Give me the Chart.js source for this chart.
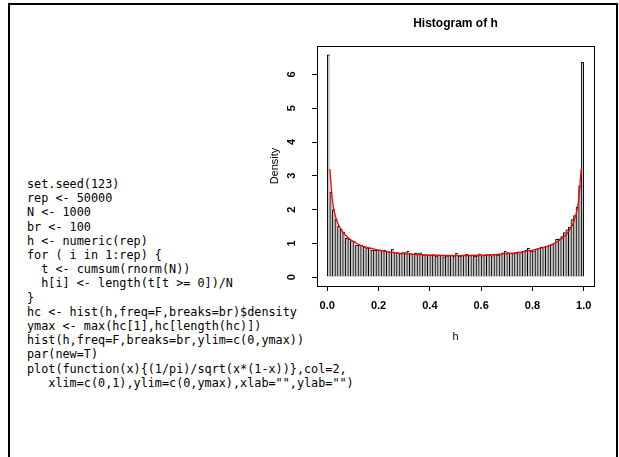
<!DOCTYPE html>
<html>
<head>
<meta charset="utf-8">
<title>Histogram of h</title>
<script src="https://cdn.jsdelivr.net/npm/chart.js@4.4.0/dist/chart.umd.min.js"></script>
<style>
body { margin: 0; width: 619px; height: 457px; overflow: hidden; background: #fff; position: relative; }
#frame { position: absolute; left: 8px; top: 3px; width: 606px; height: 480px; border: 2px solid #000; border-bottom: none; }
#code { position: absolute; left: 27px; top: 177px; margin: 0; font-family: "DejaVu Sans Mono", monospace; font-size: 11.8px; line-height: 14.2px; color: #000; }
#plot { position: absolute; left: 0; top: 0; }
</style>
</head>
<body>
<div id="frame"></div>
<pre id="code">set.seed(123)
rep &lt;- 50000
N &lt;- 1000
br &lt;- 100
h &lt;- numeric(rep)
for ( i in 1:rep) {
  t &lt;- cumsum(rnorm(N))
  h[i] &lt;- length(t[t &gt;= 0])/N
}
hc &lt;- hist(h,freq=F,breaks=br)$density
ymax &lt;- max(hc[1],hc[length(hc)])
hist(h,freq=F,breaks=br,ylim=c(0,ymax))
par(new=T)
plot(function(x){(1/pi)/sqrt(x*(1-x))},col=2,
   xlim=c(0,1),ylim=c(0,ymax),xlab="",ylab="")</pre>
<canvas id="plot" width="619" height="457"></canvas>
<script>
// histogram densities, 100 bins of width 0.01
const density = [
  6.58, 2.52, 2.00, 1.72, 1.50, 1.42, 1.33, 1.15, 1.12, 1.08,
  1.07, 0.95, 0.95, 0.94, 0.90, 0.87, 0.86, 0.80, 0.80, 0.80,
  0.81, 0.80, 0.80, 0.76, 0.74, 0.83, 0.73, 0.72, 0.70, 0.73,
  0.73, 0.76, 0.70, 0.68, 0.71, 0.70, 0.72, 0.66, 0.67, 0.66,
  0.65, 0.67, 0.62, 0.66, 0.65, 0.60, 0.63, 0.64, 0.65, 0.63,
  0.71, 0.62, 0.64, 0.66, 0.68, 0.64, 0.65, 0.62, 0.63, 0.69,
  0.64, 0.65, 0.67, 0.66, 0.64, 0.67, 0.65, 0.68, 0.72, 0.77,
  0.73, 0.72, 0.70, 0.72, 0.75, 0.73, 0.76, 0.79, 0.85, 0.77,
  0.78, 0.83, 0.85, 0.88, 0.89, 0.92, 0.93, 0.96, 1.00, 1.12,
  1.13, 1.20, 1.32, 1.40, 1.48, 1.70, 1.82, 2.07, 2.70, 6.36
];
const binWidth = 0.01;
const binMids = density.map((d, i) => +(binWidth * (i + 0.5)).toFixed(3));

// red density curve
const curveX = [0.01, 0.02, 0.03, 0.04, 0.05, 0.06, 0.08, 0.10, 0.13, 0.16, 0.20, 0.25, 0.30, 0.35,
  0.40, 0.45, 0.50, 0.55, 0.60, 0.65, 0.70, 0.75, 0.80, 0.84, 0.87, 0.90, 0.92, 0.94, 0.95,
  0.96, 0.97, 0.98, 0.99];
const curveY = [3.20, 2.27, 1.86, 1.62, 1.46, 1.34, 1.17, 1.06, 0.94, 0.87, 0.80, 0.735, 0.695, 0.667,
  0.650, 0.640, 0.637, 0.640, 0.650, 0.667, 0.695, 0.735, 0.80, 0.87, 0.94, 1.06, 1.17, 1.34, 1.46,
  1.62, 1.86, 2.27, 3.20];

const xTicks = [0, 0.2, 0.4, 0.6, 0.8, 1.0];
const yTicks = [0, 1, 2, 3, 4, 5, 6];
const ymax = Math.max(density[0], density[density.length - 1]);

const tickFont = { family: 'Liberation Sans', size: 11, weight: 'bold' };
const labelFont = { family: 'Liberation Sans', size: 11 };

// box round the plot region, like R's plot()
const boxPlugin = {
  id: 'box',
  afterDraw(chart) {
    const { ctx, chartArea: a } = chart;
    ctx.save();
    ctx.strokeStyle = '#000';
    ctx.lineWidth = 1;
    ctx.strokeRect(Math.round(a.left) + 0.5, Math.round(a.top) + 0.5, Math.round(a.width), Math.round(a.height));
    ctx.restore();
  }
};

new Chart(document.getElementById('plot'), {
  type: 'bar',
  data: {
    datasets: [
      {
        type: 'line',
        data: curveX.map((x, i) => ({ x: x, y: curveY[i] })),
        borderColor: '#ff0000',
        borderWidth: 1.3,
        pointRadius: 0,
        cubicInterpolationMode: 'monotone',
        fill: false,
        order: 0
      },
      {
        type: 'bar',
        data: binMids.map((x, i) => ({ x: x, y: density[i] })),
        backgroundColor: '#c8c8c8',
        borderColor: '#000',
        borderWidth: c => c.dataIndex === density.length - 1
          ? { left: 1, right: 1, top: 1, bottom: 0 }
          : { left: 1, right: 0, top: 1, bottom: 0 },
        borderSkipped: false,
        barPercentage: 1,
        categoryPercentage: 1,
        order: 1
      }
    ]
  },
  options: {
    responsive: false,
    animation: false,
    events: [],
    layout: { padding: { left: 268, right: 25, top: 0, bottom: 113 } },
    plugins: {
      legend: { display: false },
      tooltip: { enabled: false },
      title: {
        display: true,
        text: 'Histogram of h',
        fullSize: false,
        color: '#000',
        font: { family: 'Liberation Sans', size: 12, weight: 'bold' },
        padding: { top: 16.8, bottom: 14.8 }
      }
    },
    scales: {
      x: {
        type: 'linear',
        min: -0.04,
        max: 1.04,
        offset: false,
        afterBuildTicks: s => { s.ticks = xTicks.map(v => ({ value: v })); },
        afterFit: s => { s.height = 58; },
        ticks: { callback: v => v.toFixed(1), color: '#000', font: tickFont, padding: 8, maxRotation: 0, autoSkip: false },
        grid: { drawOnChartArea: false, drawTicks: true, tickLength: 5, color: '#000', offset: false },
        border: { display: false },
        title: { display: true, text: 'h', color: '#000', font: labelFont, padding: 0 }
      },
      y: {
        min: -0.04 * ymax,
        max: 1.04 * ymax,
        afterBuildTicks: s => { s.ticks = yTicks.map(v => ({ value: v })); },
        afterFit: s => { s.width = 49; },
        ticks: { color: '#000', font: tickFont, padding: 17, minRotation: 90, maxRotation: 90, crossAlign: 'center' },
        grid: { drawOnChartArea: false, drawTicks: true, tickLength: 5, color: '#000' },
        border: { display: false },
        title: { display: true, text: 'Density', color: '#000', font: labelFont, padding: 0 }
      }
    }
  },
  plugins: [boxPlugin]
});
</script>
</body>
</html>
